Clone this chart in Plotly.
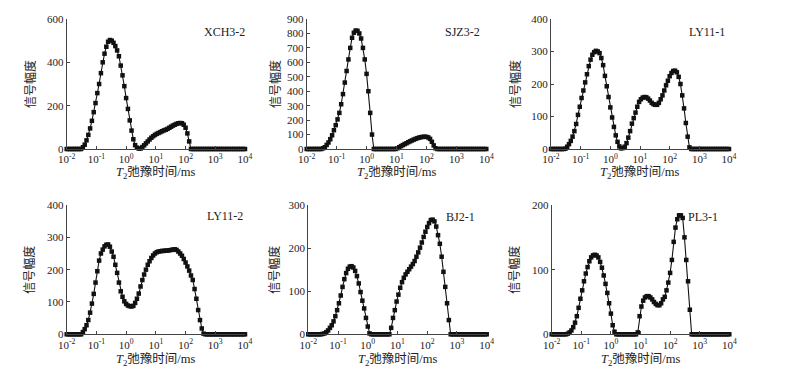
import numpy as np
import plotly.graph_objects as go

# T2 relaxation-time grid (100 log-spaced points, 0.01 - 10000 ms)
T2 = np.logspace(-2, 4, 100)

def pad(start, vals):
    return [0] * start + vals + [0] * (100 - start - len(vals))

XCH3_2 = pad(9, [8, 20, 40, 65, 95, 130, 170, 212, 258, 300, 350, 400, 440, 472, 495, 503, 500, 490,
                 475, 455, 428, 385, 340, 290, 235, 185, 132, 85, 45, 18, 6, 2, 2, 9, 17, 26, 35, 44,
                 52, 59, 65, 70, 74, 78, 82, 86, 89, 93, 98, 103, 108, 112, 116, 119, 120, 119, 112,
                 98, 72, 35])
SJZ3_2 = pad(9, [5, 12, 28, 45, 68, 95, 130, 165, 205, 250, 310, 380, 460, 540, 620, 700, 770, 805,
                 820, 818, 800, 765, 700, 620, 520, 400, 250, 100, 0,
                 0, 0, 0, 0, 0, 0, 0, 0, 0, 0, 0, 0,
                 5, 12, 20, 27, 34, 40, 47, 53, 59, 65, 70, 75, 79, 82, 84, 85, 84, 80, 70, 50, 25, 5])
LY11_1 = pad(8, [1, 7, 15, 25, 38, 55, 77, 105, 130, 157, 180, 205, 230, 255, 275, 290, 298, 302, 300,
                 295, 280, 258, 225, 193, 160, 128, 97, 68, 42, 22, 8, 2,
                 3, 7, 18, 35, 55, 78, 95, 112, 130, 145, 153, 158, 160, 159, 155, 149, 142, 138, 136,
                 136, 142, 153, 165, 180, 196, 210, 224, 234, 240, 241, 236, 222, 200, 165, 125, 80,
                 38, 5])
LY11_2 = pad(8, [0, 7, 16, 28, 44, 67, 95, 125, 160, 195, 228, 250, 262, 272, 277, 278, 271, 256, 240,
                 215, 190, 160, 133, 116, 102, 94, 89, 87, 86, 88, 97, 110, 126, 148, 168, 185, 200,
                 215, 226, 236, 244, 250, 254, 256, 257, 258, 258, 259, 259, 260, 261, 262, 263, 261,
                 256, 250, 243, 233, 222, 210, 197, 182, 168, 140, 110, 75, 44, 18, 2])
BJ2_1 = pad(8, [1, 2, 5, 9, 15, 21, 30, 42, 56, 72, 90, 110, 128, 142, 152, 157, 158, 155, 147, 135,
                118, 98, 78, 60, 38, 18, 2,
                0, 0, 0, 0, 0, 0, 0, 0, 0, 0, 0,
                15, 38, 56, 76, 92, 108, 121, 131, 139, 145, 151, 157, 163, 170, 180, 190, 201, 213,
                226, 238, 249, 258, 265, 266, 262, 250, 230, 210, 180, 145, 110, 72, 33])
PL3_1 = pad(9, [1, 3, 6, 11, 18, 28, 41, 55, 68, 82, 94, 104, 113, 119, 122, 123, 122, 119, 112, 103,
                91, 78, 64, 48, 32, 14, 4,
                0, 0, 0, 0, 0, 0, 0, 0, 0, 0, 0, 0,
                3, 28, 43, 52, 57, 59, 59, 57, 54, 50, 47, 45, 45, 48, 54, 58, 68, 80, 95, 115, 143,
                165, 178, 184, 184, 180, 150, 115, 82, 38])

series = [XCH3_2, SJZ3_2, LY11_1, LY11_2, BJ2_1, PL3_1]
names = ["XCH3-2", "SJZ3-2", "LY11-1", "LY11-2", "BJ2-1", "PL3-1"]
ymax = [600, 900, 400, 400, 300, 200]
ydtick = [200, 100, 100, 100, 100, 100]
xtick_vals = [1e-2, 1e-1, 1e0, 1e1, 1e2, 1e3, 1e4]
xtick_text = ["10<sup>-2</sup>", "10<sup>-1</sup>", "10<sup>0</sup>", "10<sup>1</sup>",
              "10<sup>2</sup>", "10<sup>3</sup>", "10<sup>4</sup>"]
y_title = "信号幅度"
x_title = "<i>T</i><sub>2</sub>弛豫时间/ms"

W, H = 787, 385
OFF = 8  # page (body) margin offset in the screenshot
def px(v):
    return (v - OFF) / W
def py(v):
    return 1 - (v - OFF) / H

# panel plot-area pixel boxes (left, right, top, bottom) in screenshot pixels
boxes = [(66.7, 245, 19, 149), (306.7, 486.3, 19, 149), (551, 729, 19, 149),
         (66.7, 245, 205, 334.3), (308.3, 486.7, 205, 334.3), (551.7, 729.3, 205, 334.3)]
label_pos = [(247, 32), (482, 32), (727, 32), (245, 216), (477, 217), (720, 217)]
ytitle_x = [30, 275, 515, 30, 275, 515]
xtitle_y = [173, 173, 173, 360, 360, 360]

FONT = "Liberation Serif, Noto Sans CJK SC, serif"
TXT = "#222"
AX = "#444"

fig = go.Figure()
layout = {}
annotations = []
for k in range(6):
    n = "" if k == 0 else str(k + 1)
    l, r, t, b = boxes[k]
    fig.add_trace(go.Scatter(
        x=T2, y=series[k], mode="lines+markers", xaxis="x" + n, yaxis="y" + n,
        line=dict(color="#111", width=1.1), marker=dict(symbol="square", size=4.5, color="#111"),
        cliponaxis=False, showlegend=False))
    layout["xaxis" + n] = dict(
        type="log", range=[-2, 4], domain=[px(l), px(r)], anchor="y" + n, automargin=False,
        tickvals=xtick_vals, ticktext=xtick_text, ticks="inside", ticklen=3, tickcolor=AX,
        showline=True, linecolor=AX, linewidth=1, showgrid=False, zeroline=False,
        tickfont=dict(family=FONT, size=11, color=TXT))
    layout["yaxis" + n] = dict(
        range=[0, ymax[k]], dtick=ydtick[k], domain=[py(b), py(t)], anchor="x" + n,
        automargin=False, ticks="inside", ticklen=3, tickcolor=AX, showline=True, linecolor=AX,
        linewidth=1, showgrid=False, zeroline=False, tickfont=dict(family=FONT, size=11, color=TXT))
    lx, ly = label_pos[k]
    annotations.append(dict(text=names[k], x=px(lx), y=py(ly), xref="paper", yref="paper",
                            xanchor="right", yanchor="middle", showarrow=False,
                            font=dict(family=FONT, size=12, color=TXT)))
    annotations.append(dict(text=y_title, x=px(ytitle_x[k]), y=py((t + b) / 2),
                            xref="paper", yref="paper", textangle=-90, xanchor="center",
                            yanchor="middle", showarrow=False,
                            font=dict(family=FONT, size=12, color=TXT)))
    annotations.append(dict(text=x_title, x=px((l + r) / 2), y=py(xtitle_y[k]),
                            xref="paper", yref="paper", xanchor="center", yanchor="middle",
                            showarrow=False, font=dict(family=FONT, size=12.5, color=TXT)))

fig.update_layout(width=W, height=H, margin=dict(l=0, r=0, t=0, b=0, autoexpand=False),
                  paper_bgcolor="white", plot_bgcolor="white",
                  annotations=annotations, **layout)
fig.write_html("out.html")
